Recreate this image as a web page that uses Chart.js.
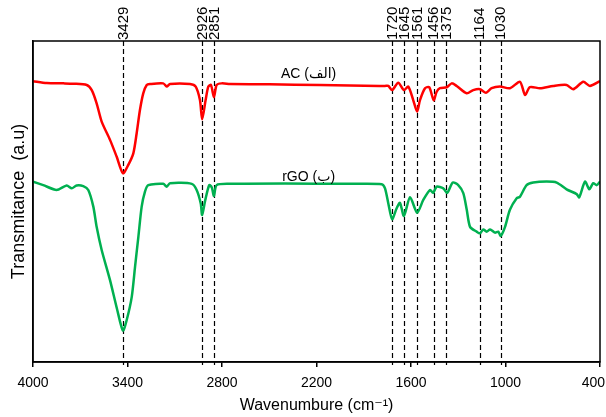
<!DOCTYPE html>
<html>
<head>
<meta charset="utf-8">
<script src="https://cdn.jsdelivr.net/npm/chart.js@4/dist/chart.umd.min.js"></script>
<style>
html,body{margin:0;padding:0;background:#fff;}
#wrap{width:606px;height:417px;}
</style>
</head>
<body>
<div id="wrap"><canvas id="c" width="606" height="417"></canvas></div>
<script>
// Wavenumber (cm-1) and transmittance (a.u.)
const wnAC = [4000,3913,3807,3744,3659,3627,3596,3564,3511,3469,3429,3395,3363,3342,3321,3300,3278,3257,3173,3151,3130,3003,2967,2940,2926,2904,2887,2870,2851,2834,2802,2749,2500,2178,1800,1765,1744,1720,1681,1645,1617,1586,1561,1543,1511,1484,1456,1437,1416,1373,1342,1310,1246,1205,1162,1124,1088,1035,972,908,876,845,781,697,612,570,506,464,400];
const tAC = [87.5,86.9,86.8,86.7,86.3,84.7,80.6,74.9,69.2,64.0,58.8,61.4,65.0,71.2,78.5,83.7,86.3,86.6,86.8,85.8,86.6,86.6,85.8,81.6,75.6,81.6,85.8,86.3,82.5,86.3,86.8,86.6,86.5,86.3,86.0,86.0,86.0,84.7,87.0,84.7,85.8,81.6,78.0,81.6,85.3,85.6,81.6,84.2,85.3,85.6,86.8,86.0,83.7,84.7,85.0,83.9,85.3,85.8,85.3,87.3,83.2,85.6,85.3,86.0,86.3,85.0,87.3,86.0,87.5];

const wnRGO = [4000,3935,3850,3786,3754,3723,3681,3649,3617,3596,3564,3511,3465,3429,3405,3373,3352,3331,3310,3289,3268,3173,3151,3130,2992,2961,2935,2926,2906,2881,2865,2851,2834,2749,2400,2000,1786,1765,1744,1720,1691,1670,1645,1606,1561,1522,1479,1459,1437,1395,1370,1335,1300,1268,1246,1225,1183,1162,1141,1120,1098,1067,1046,1030,1003,972,929,908,866,824,739,675,612,548,532,495,468,443,421,400];
const tRGO = [56.2,55.1,53.6,55.0,54.1,55.0,54.8,53.6,48.4,42.1,34.9,25.5,16.2,9.8,13.1,20.3,29.7,39.0,48.4,53.1,55.1,55.5,54.6,55.7,55.5,53.6,49.4,45.8,50.5,55.1,54.4,51.7,55.1,55.5,55.6,55.5,55.4,54.1,49.4,44.5,47.9,49.6,45.5,51.3,46.5,50.5,53.6,52.7,54.6,54.1,52.7,55.9,55.1,52.6,47.4,42.1,40.6,40.1,41.3,40.6,41.3,40.3,40.6,39.3,42.1,47.4,51.0,51.5,55.1,55.9,56.2,55.9,53.8,52.3,51.3,56.2,53.8,55.7,55.1,56.2];

const peaks = [3429,2926,2851,1720,1645,1561,1456,1375,1164,1030];
const xTicks = [4000,3400,2800,2200,1600,1000,400];
const seriesNames = ['AC (الف)', 'rGO (ب)'];
const seriesLabelAt = [[2250, 89.7], [2250, 57.6]];

const toPts = (xs, ys) => xs.map((v, i) => ({x: v, y: ys[i]}));
const FONT = '"Liberation Sans", Arial, "DejaVu Sans", sans-serif';

const overlay = {
  id: 'overlay',
  beforeDatasetsDraw(chart) {
    const {ctx, chartArea: a, scales: {x}} = chart;
    ctx.save();
    ctx.strokeStyle = '#000';
    ctx.lineWidth = 1.2;
    ctx.setLineDash([5, 3]);
    peaks.forEach(p => {
      const px = Math.round(x.getPixelForValue(p)) + 0.5;
      ctx.beginPath();
      ctx.moveTo(px, a.top);
      ctx.lineTo(px, a.bottom + 3);
      ctx.stroke();
    });
    ctx.restore();
  },
  afterDatasetsDraw(chart) {
    const {ctx, chartArea: a, scales: {x, y}} = chart;
    ctx.save();
    ctx.fillStyle = '#000';
    ctx.font = '15px ' + FONT;
    ctx.textAlign = 'left';
    ctx.textBaseline = 'middle';
    peaks.forEach(p => {
      const px = x.getPixelForValue(p);
      ctx.save();
      ctx.translate(px + 0.5, a.top - 1);
      ctx.rotate(-Math.PI / 2);
      ctx.fillText(String(p), 0, 0);
      ctx.restore();
    });
    ctx.strokeStyle = '#000';
    ctx.lineWidth = 1.5;
    ctx.strokeRect(a.left, a.top, a.right - a.left, a.bottom - a.top);
    // x tick labels (kept inside the canvas)
    ctx.font = '14px ' + FONT;
    ctx.textAlign = 'center';
    ctx.textBaseline = 'alphabetic';
    xTicks.forEach(v => {
      const s = String(v);
      const w = ctx.measureText(s).width;
      let px = x.getPixelForValue(v);
      px = Math.min(px, chart.width - 1 - w / 2);
      px = Math.max(px, 1 + w / 2);
      ctx.fillText(s, px, a.bottom + 24.5);
    });
    ctx.font = '14px ' + FONT;
    ctx.textAlign = 'center';
    ctx.textBaseline = 'middle';
    ctx.direction = 'ltr';
    seriesNames.forEach((n, i) => {
      ctx.fillText(n, x.getPixelForValue(seriesLabelAt[i][0]), y.getPixelForValue(seriesLabelAt[i][1]));
    });
    ctx.restore();
  }
};

new Chart(document.getElementById('c'), {
  type: 'line',
  data: {
    datasets: [
      {label: seriesNames[0], data: toPts(wnAC, tAC), borderColor: '#FF0000', borderWidth: 2.5, pointRadius: 0, tension: 0.25, fill: false},
      {label: seriesNames[1], data: toPts(wnRGO, tRGO), borderColor: '#00B050', borderWidth: 2.5, pointRadius: 0, tension: 0.25, fill: false}
    ]
  },
  options: {
    responsive: false,
    animation: false,
    layout: {padding: {top: 41, right: 6, left: 0, bottom: 0}},
    plugins: {legend: {display: false}, tooltip: {enabled: false}},
    scales: {
      x: {
        type: 'linear', reverse: true, min: 400, max: 4000,
        afterBuildTicks: s => { s.ticks = xTicks.map(v => ({value: v})); },
        afterFit: s => { s.height = 55; s.paddingLeft = 0; s.paddingRight = 0; },
        ticks: {display: false},
        grid: {drawOnChartArea: false, drawTicks: true, tickLength: 5, color: '#000', lineWidth: 1.5},
        border: {display: true, color: '#000', width: 1.5},
        title: {display: true, text: 'Wavenumbure (cm⁻¹)', color: '#000', font: {size: 16, family: FONT}, padding: {top: 0, bottom: 2}}
      },
      y: {
        min: 0, max: 100,
        afterFit: s => { s.width = 33; s.paddingTop = 0; s.paddingBottom = 0; },
        ticks: {display: false},
        grid: {display: false, drawTicks: false},
        border: {display: true, color: '#000', width: 1.5},
        title: {display: true, text: 'Transmitance  (a.u)', color: '#000', font: {size: 18, family: FONT}, padding: {top: 8, bottom: 0}}
      }
    }
  },
  plugins: [overlay]
});
</script>
</body>
</html>
